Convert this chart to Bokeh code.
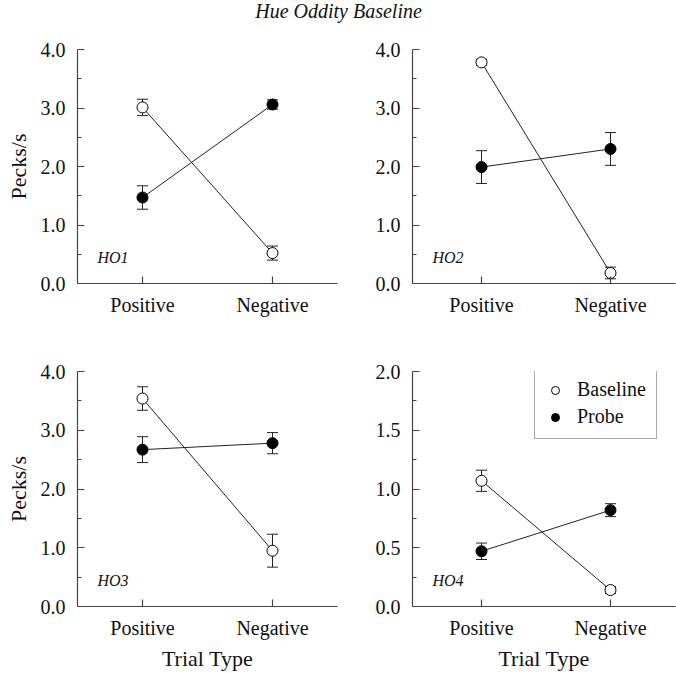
from bokeh.plotting import figure
from bokeh.models import (ColumnDataSource, Whisker, TeeHead, Label, Legend, LegendItem,
                          FixedTicker, PrintfTickFormatter, Range1d)
from bokeh.layouts import column, row
from bokeh.embed import file_html
from bokeh.resources import INLINE

# ---------------- data ----------------
categories = ["Positive", "Negative"]
subjects = ["HO1", "HO2", "HO3", "HO4"]

ho1_baseline = [3.01, 0.52]
ho1_baseline_sem = [0.14, 0.12]
ho1_probe = [1.47, 3.06]
ho1_probe_sem = [0.20, 0.08]

ho2_baseline = [3.78, 0.18]
ho2_baseline_sem = [0.05, 0.10]
ho2_probe = [1.99, 2.30]
ho2_probe_sem = [0.28, 0.28]

ho3_baseline = [3.54, 0.95]
ho3_baseline_sem = [0.20, 0.28]
ho3_probe = [2.67, 2.78]
ho3_probe_sem = [0.22, 0.18]

ho4_baseline = [1.07, 0.14]
ho4_baseline_sem = [0.09, 0.03]
ho4_probe = [0.47, 0.82]
ho4_probe_sem = [0.07, 0.055]

y_ticks_4 = [0.0, 1.0, 2.0, 3.0, 4.0]
y_ticks_2 = [0.0, 0.5, 1.0, 1.5, 2.0]

title_text = "Hue Oddity Baseline"
y_label = "Pecks/s"
x_label = "Trial Type"

# ---------------- style ----------------
FONT = "Liberation Serif"
AXIS_COLOR = "#444444"
TEXT_COLOR = "#111111"
LINE_COLOR = "#222222"


def make_panel(name, base, base_sem, probe, probe_sem, yticks, width, height,
               bl, br, bt, bb, xr, ylab, xlab, legend=False):
    xpos = [1 + 2 * i for i in range(len(categories))]
    ymax = yticks[-1]
    p = figure(width=width, height=height, x_range=Range1d(*xr), y_range=Range1d(0, ymax),
               output_backend="svg", toolbar_location=None,
               min_border_left=bl, min_border_right=br, min_border_top=bt, min_border_bottom=bb)
    p.outline_line_color = None
    p.grid.visible = False
    p.background_fill_color = "white"

    for ax in (p.xaxis[0], p.yaxis[0]):
        ax.axis_line_color = AXIS_COLOR
        ax.axis_line_width = 1.2
        ax.major_tick_line_color = AXIS_COLOR
        ax.major_tick_line_width = 1.2
        ax.major_tick_in = 7
        ax.major_tick_out = 0
        ax.minor_tick_line_color = AXIS_COLOR
        ax.minor_tick_line_width = 1.2
        ax.minor_tick_in = 4
        ax.minor_tick_out = 0
        ax.major_label_text_font = FONT
        ax.major_label_text_font_size = "20px"
        ax.major_label_text_color = TEXT_COLOR
        ax.axis_label_text_font = FONT
        ax.axis_label_text_font_size = "22px"
        ax.axis_label_text_font_style = "normal"
        ax.axis_label_text_color = TEXT_COLOR

    minor = [(a + b) / 2 for a, b in zip(yticks[:-1], yticks[1:])]
    p.yaxis.ticker = FixedTicker(ticks=yticks, minor_ticks=minor)
    p.yaxis.formatter = PrintfTickFormatter(format="%.1f")
    p.yaxis.major_label_standoff = 12
    p.xaxis.ticker = FixedTicker(ticks=xpos)
    p.xaxis.major_label_overrides = {x: c for x, c in zip(xpos, categories)}
    p.xaxis.minor_tick_line_color = None
    p.xaxis.major_label_standoff = 10
    if ylab:
        p.yaxis.axis_label = y_label
        p.yaxis.axis_label_standoff = 7
    if xlab:
        p.xaxis.axis_label = x_label
        p.xaxis.axis_label_standoff = 4

    src_b = ColumnDataSource(dict(x=xpos, y=base,
                                  lo=[m - e for m, e in zip(base, base_sem)],
                                  hi=[m + e for m, e in zip(base, base_sem)]))
    src_p = ColumnDataSource(dict(x=xpos, y=probe,
                                  lo=[m - e for m, e in zip(probe, probe_sem)],
                                  hi=[m + e for m, e in zip(probe, probe_sem)]))

    for src in (src_b, src_p):
        w = Whisker(base="x", upper="hi", lower="lo", source=src, level="underlay",
                    line_color=LINE_COLOR, line_width=1,
                    upper_head=TeeHead(size=11, line_color=LINE_COLOR, line_width=1),
                    lower_head=TeeHead(size=11, line_color=LINE_COLOR, line_width=1))
        p.add_layout(w)

    p.line("x", "y", source=src_b, line_color=LINE_COLOR, line_width=1)
    p.line("x", "y", source=src_p, line_color=LINE_COLOR, line_width=1)
    rb = p.scatter("x", "y", source=src_b, size=11, marker="circle",
                   fill_color="white", line_color="black", line_width=1)
    rp = p.scatter("x", "y", source=src_p, size=11, marker="circle",
                   fill_color="black", line_color="black", line_width=1)

    p.add_layout(Label(x=xr[0], y=0.11 * ymax, x_offset=20, text=name,
                       text_font=FONT, text_font_style="italic", text_font_size="16px",
                       text_color=TEXT_COLOR, text_baseline="middle", text_align="left"))

    if legend:
        lg = Legend(items=[LegendItem(label="Baseline", renderers=[rb]),
                           LegendItem(label="Probe", renderers=[rp])],
                    location=(122, 167), orientation="vertical",
                    label_text_font=FONT, label_text_font_size="20px",
                    label_text_color=TEXT_COLOR,
                    glyph_width=20, glyph_height=20, label_height=20,
                    label_standoff=12, spacing=4, padding=10, margin=0,
                    border_line_color="#555555", border_line_width=1,
                    background_fill_color="white", background_fill_alpha=1.0)
        p.add_layout(lg, "center")
    return p


LEFT_W, RIGHT_W = 345, 331
TITLE_H, TOP_H, BOT_H = 30, 300, 343
XR_LEFT = (0.0, 4.0)
XR_RIGHT = (-0.07, 4.008)

p1 = make_panel("HO1", ho1_baseline, ho1_baseline_sem, ho1_probe, ho1_probe_sem, y_ticks_4,
                LEFT_W, TOP_H, 77, 8, 19, 47, XR_LEFT, True, False)
p2 = make_panel("HO2", ho2_baseline, ho2_baseline_sem, ho2_probe, ho2_probe_sem, y_ticks_4,
                RIGHT_W, TOP_H, 67, 1, 19, 47, XR_RIGHT, False, False)
p3 = make_panel("HO3", ho3_baseline, ho3_baseline_sem, ho3_probe, ho3_probe_sem, y_ticks_4,
                LEFT_W, BOT_H, 77, 8, 41, 67, XR_LEFT, True, True)
p4 = make_panel("HO4", ho4_baseline, ho4_baseline_sem, ho4_probe, ho4_probe_sem, y_ticks_2,
                RIGHT_W, BOT_H, 67, 1, 41, 67, XR_RIGHT, False, True, legend=True)

tp = figure(width=LEFT_W + RIGHT_W, height=TITLE_H, x_range=Range1d(0, LEFT_W + RIGHT_W),
            y_range=Range1d(0, TITLE_H), x_axis_type=None, y_axis_type=None,
            output_backend="svg", toolbar_location=None, min_border=0)
tp.outline_line_color = None
tp.grid.visible = False
tp.add_layout(Label(x=338, y=TITLE_H - 10, text=title_text, text_align="center",
                    text_baseline="middle",
                    text_font=FONT, text_font_style="italic", text_font_size="20px",
                    text_color=TEXT_COLOR))

layout = column(tp, row(p1, p2), row(p3, p4), spacing=0)

open("out.html", "w").write(file_html(layout, INLINE))
